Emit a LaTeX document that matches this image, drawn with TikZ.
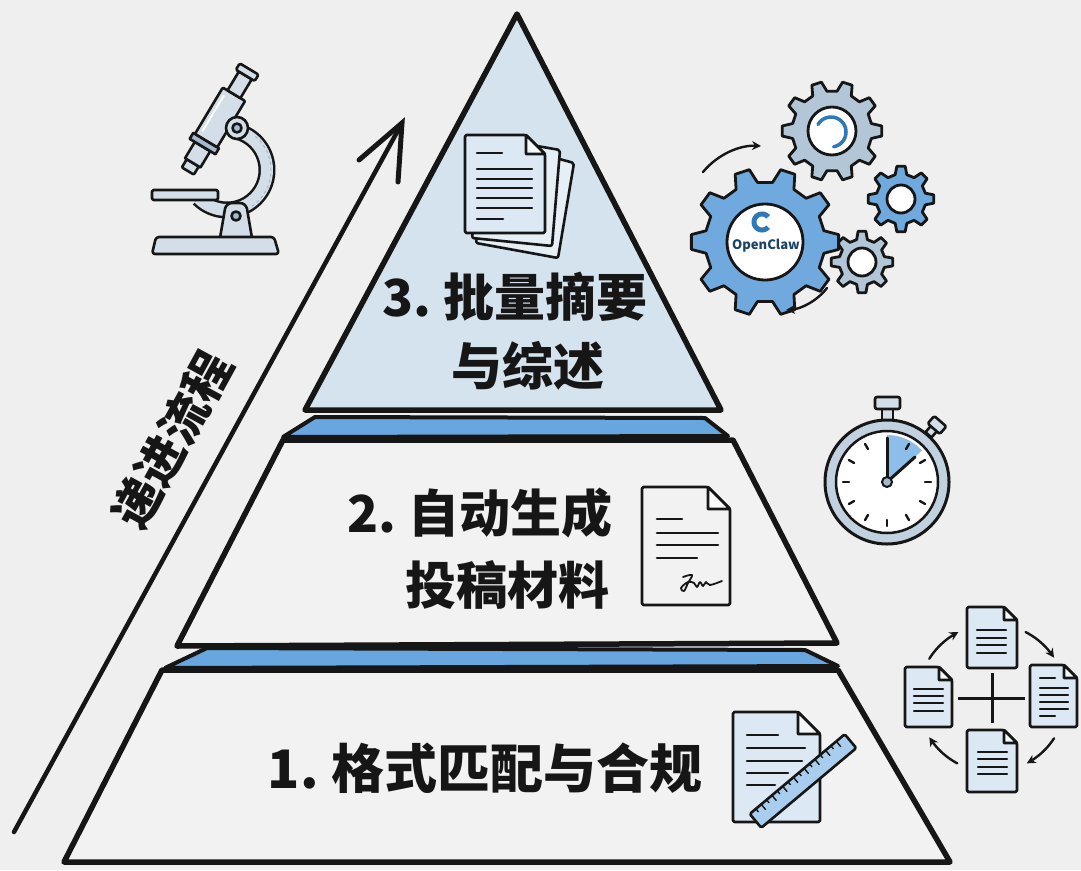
\documentclass[tikz,border=0pt]{standalone}
\usepackage{fontspec}
\newfontfamily\cjk{Noto Sans CJK SC}
\usetikzlibrary{arrows.meta}

\definecolor{bg}{HTML}{EFEFEF}
\definecolor{tierlight}{HTML}{F2F2F2}
\definecolor{topfill}{HTML}{D5E3EF}
\definecolor{bandblue}{HTML}{67A6DE}
\definecolor{ink}{HTML}{161616}
\definecolor{gearblue}{HTML}{6FA9DD}
\definecolor{geargray}{HTML}{B3C6D8}
\definecolor{paper}{HTML}{DCE8F3}
\definecolor{paperback}{HTML}{E6EEF6}
\definecolor{metal}{HTML}{D3DEE8}
\definecolor{metaldark}{HTML}{A3B9CE}
\definecolor{logo}{HTML}{2F79B8}
\definecolor{wedge}{HTML}{8DBDE9}
\definecolor{rulerblue}{HTML}{A9CDEE}

\tikzset{
  tier/.style={draw=ink, line width=5.5pt, line join=round},
  band/.style={draw=ink, line width=4pt, line join=round, fill=bandblue},
  iconline/.style={draw=ink, line width=2.6pt, line join=round, line cap=round},
  textline/.style={draw=ink, line width=2.6pt, line cap=round},
  gearline/.style={draw=ink, line width=2.8pt, line join=round},
  tiertext/.style={font={\cjk\bfseries\fontsize{51}{60}\selectfont}, text=ink, inner sep=0pt},
  cyclearrow/.style={draw=ink, line width=2.4pt, line cap=round, -{Stealth[length=9pt,width=9pt]}},
}

% document sheet with a folded corner: x1,y1,x2,y2,fold,fill
\newcommand\paperdoc[6]{%
  \filldraw[iconline, fill=#6, rounded corners=1.5pt]
    (#1,#2) -- ({#3-#5},#2) -- (#3,{#2+#5}) -- (#3,#4) -- (#1,#4) -- cycle;
  \filldraw[iconline, fill=white!70!#6]
    ({#3-#5},#2) -- ({#3-#5},{#2+#5}) -- (#3,{#2+#5}) -- cycle;}

% toothed gear: cx, cy, teeth, root radius, tip radius, fill
\newcommand\gearwheel[6]{%
  \filldraw[gearline, fill=#6, shift={(#1,#2)}]
    ({0.7*360/#3}:#4)
    \foreach \k in {1,...,#3} {
      -- ({(\k-0.3)*360/#3}:#4) -- ({(\k-0.16)*360/#3}:#5)
      -- ({(\k+0.16)*360/#3}:#5) -- ({(\k+0.3)*360/#3}:#4)}
    -- cycle;}

\begin{document}
\begin{tikzpicture}[x=1pt,y=-1pt]
\useasboundingbox (0,0) rectangle (1081,870);
\fill[bg] (0,0) rectangle (1081,870);

% ---------------- pyramid ----------------
\filldraw[tier, fill=tierlight] (162,670) -- (838,670) -- (950,862) -- (64,862) -- cycle;
\filldraw[band] (207,648) -- (805,650) -- (838,666) -- (165,668) -- cycle;
\filldraw[tier, fill=tierlight] (283,440) -- (733,440) -- (837,643) -- (177,646) -- cycle;
\filldraw[band] (315,417) -- (705,418) -- (728,436) -- (283,437) -- cycle;
\filldraw[tier, fill=topfill] (517,14) -- (721,410) -- (305,410) -- cycle;

% tier labels
\node[tiertext] (t3a) at (515,297) {3.\ 批量摘要};
\node[tiertext] (t3b) at (528,366) {与综述};
\node[tiertext] (t2a) at (480,513) {2.\ 自动生成};
\node[tiertext] (t2b) at (507,585) {投稿材料};
\node[tiertext, font={\cjk\bfseries\fontsize{53}{60}\selectfont}] (t1) at (485,768) {1.\ 格式匹配与合规};

% ---------------- progress arrow ----------------
\coordinate (arrowstart) at (14,832);
\coordinate (arrowtip) at (402,123);
\draw[ink, line width=4.5pt, line cap=round] (arrowstart) -- (arrowtip);
\draw[ink, line width=5pt, line cap=round, line join=miter] (359,160) -- (arrowtip) -- (398,182);
\node[font={\cjk\bfseries\fontsize{48}{56}\selectfont}, text=ink, rotate=61.3, inner sep=0pt]
  (flow) at (172,440) {递进流程};

% ---------------- stacked summaries (top tier) ----------------
\filldraw[iconline, fill=paperback, rounded corners=2pt] (490,140) -- (574,163) -- (558,258) -- (476,243) -- cycle;
\filldraw[iconline, fill=paperback, rounded corners=2pt] (485,137) -- (560,150) -- (552,246) -- (472,238) -- cycle;
\paperdoc{465}{135}{545}{233}{19}{paper}
\draw[textline] (477,153) -- (502,153);
\foreach \yy in {169,179,188,198,208} \draw[textline] (477,\yy) -- (532,\yy);
\draw[textline] (477,219) -- (503,219);

% ---------------- signed document (middle tier) ----------------
\paperdoc{642}{487}{730}{605}{22}{tierlight}
\draw[textline] (657,519) -- (682,519);
\draw[textline] (657,533) -- (718,533);
\draw[textline] (657,545) -- (718,545);
\draw[textline] (657,558) -- (697,558);
\draw[ink, line width=1.8pt, line cap=round, line join=round] plot[smooth, tension=0.6] coordinates
  {(683,577) (692,575) (688,583) (684,591) (681,588) (688,582) (694,583) (697,587) (700,582) (703,586) (706,582) (710,585) (722,581)};

% ---------------- ruler and sheet (bottom tier) ----------------
\paperdoc{733}{712}{820}{822}{22}{paper}
\draw[textline] (747,735) -- (778,735);
\draw[textline] (747,748) -- (805,748);
\draw[textline] (747,761) -- (802,761);
\draw[textline] (747,773) -- (788,773);
\draw[textline] (747,785) -- (775,785);
\begin{scope}[shift={(803,781)}, rotate=40]
  \filldraw[iconline, fill=rulerblue, rounded corners=1.5pt] (-62,-9) rectangle (62,9);
  \foreach \t [count=\i] in {-54,-47,...,54} {
    \pgfmathsetmacro\tl{mod(\i,2)==0 ? 7 : 4}
    \draw[ink, line width=1.4pt] (\t,-9) -- (\t,{-9+\tl});
  }
\end{scope}

% ---------------- microscope ----------------
\draw[ink, line width=17pt] plot[domain=75:-135, samples=50] ({227+40*cos(\x)},{170-40*sin(\x)});
\draw[metal, line width=12pt] plot[domain=75:-135, samples=50] ({227+40*cos(\x)},{170-40*sin(\x)});
\draw[metaldark, line width=1pt, dashed] plot[domain=50:-60, samples=30] ({227+44*cos(\x)},{170-44*sin(\x)});
\begin{scope}[shift={(218.5,120)}, rotate=-31]
  \filldraw[iconline, fill=metal, rounded corners=1pt] (-7,59.5) rectangle (7,50);
  \filldraw[iconline, fill=metal] (-9,50) rectangle (9,31);
  \filldraw[iconline, fill=metaldark] (-15,31) rectangle (15,24);
  \filldraw[iconline, fill=metal, rounded corners=1pt] (-13,24) rectangle (13,-30);
  \draw[white, line width=2pt] (-8,18) -- (-8,-24);
  \filldraw[iconline, fill=metal] (-7.5,-30) rectangle (7.5,-52);
  \filldraw[iconline, fill=metal, rounded corners=1.5pt] (-11,-52) rectangle (11,-59.5);
\end{scope}
\filldraw[iconline, fill=metal] (237,128) circle (11);
\filldraw[iconline, fill=metaldark] (237,128) circle (4.5);
\filldraw[iconline, fill=metal, rounded corners=1.5pt] (152,190) rectangle (218,200);
\filldraw[iconline, fill=metal, rounded corners=6pt] (220,238) -- (226,203) -- (246,203) -- (252,238);
\filldraw[iconline, fill=metaldark] (236,216) circle (4.5);
\filldraw[iconline, fill=metal, rounded corners=3pt] (156,237) -- (274,237) -- (279,254) -- (152,254) -- cycle;

% ---------------- gears ----------------
\gearwheel{832}{131}{10}{40}{50}{geargray}
\filldraw[gearline, fill=white] (832,131) circle (24);
\draw[logo, line width=3.5pt, line cap=round] plot[domain=150:-80, samples=30] ({831+15*cos(\x)},{132-15*sin(\x)});

\gearwheel{901}{199}{8}{25}{33}{gearblue}
\filldraw[gearline, fill=white] (901,199) circle (14);

\gearwheel{862}{262}{8}{23}{31}{geargray}
\filldraw[gearline, fill=white] (862,262) circle (14);

\gearwheel{765}{242}{10}{60}{74}{gearblue}
\filldraw[gearline, fill=white] (765,242) circle (38);
\draw[logo, line width=5pt] plot[domain=40:320, samples=30] ({762+8*cos(\x)},{222-8*sin(\x)});
\node[font={\cjk\bfseries\fontsize{13}{15}\selectfont}, text=logo!55!black, inner sep=0pt] (brand) at (766,246) {OpenClaw};

\coordinate (gearA1) at (703,172);
\coordinate (gearA2) at (761,146);
\coordinate (gearB1) at (827,288);
\coordinate (gearB2) at (786,310);
\draw[cyclearrow] (gearA1) .. controls (718,154) and (740,145) .. (gearA2);
\draw[cyclearrow] (gearB1) .. controls (817,301) and (801,309) .. (gearB2);

% ---------------- stopwatch ----------------
\begin{scope}[shift={(937,425)}, rotate=-41]
  \filldraw[iconline, fill=metal] (-4,4) rectangle (4,13);
  \filldraw[iconline, fill=metal, rounded corners=1.5pt] (-8,-5) rectangle (8,5);
\end{scope}
\filldraw[iconline, fill=metal] (882,408) rectangle (893,422);
\filldraw[iconline, fill=metal, rounded corners=2pt] (875,397) rectangle (900,409);
\filldraw[ink, line width=3pt, fill=geargray!80!white] (887,482) circle (62);
\filldraw[ink, line width=2.5pt, fill=white] (887,482) circle (51);
\fill[wedge] (887,482) -- plot[domain=90:42, samples=20] ({887+47*cos(\x)},{482-47*sin(\x)}) -- cycle;
\foreach \a in {0,30,...,330}
  \draw[ink, line width=2.4pt, line cap=round] ({887+38*cos(\a)},{482-38*sin(\a)}) -- ({887+44*cos(\a)},{482-44*sin(\a)});
\draw[ink, line width=3pt, line cap=round] (887,482) -- (887,438);
\draw[ink, line width=3pt, line cap=round] (887,482) -- (915,457);
\filldraw[ink, line width=2pt, fill=metaldark] (887,482) circle (5);

% ---------------- four-document cycle ----------------
\draw[ink, line width=3pt] (958,698) -- (1025,698);
\draw[ink, line width=3pt] (992,673) -- (992,723);
\paperdoc{967}{607}{1017}{668}{13}{paper}
\foreach \yy in {630,638,645,653} \draw[textline, line width=2.2pt] (977,\yy) -- (1006,\yy);
\paperdoc{905}{667}{952}{727}{13}{paper}
\foreach \yy in {689,696,703,711} \draw[textline, line width=2.2pt] (914,\yy) -- (943,\yy);
\paperdoc{1030}{665}{1077}{727}{13}{paper}
\draw[textline, line width=2.2pt] (1040,678) -- (1055,678);
\foreach \yy in {688,695,702,709} \draw[textline, line width=2.2pt] (1040,\yy) -- (1068,\yy);
\draw[textline, line width=2.2pt] (1040,716) -- (1055,716);
\paperdoc{967}{730}{1017}{792}{13}{paper}
\foreach \yy in {752,759,767,774} \draw[textline, line width=2.2pt] (978,\yy) -- (1007,\yy);

\draw[cyclearrow] plot[domain=148:117, samples=12] ({992+74*cos(\x)},{698-74*sin(\x)});
\draw[cyclearrow] plot[domain=63:33, samples=12] ({992+74*cos(\x)},{698-74*sin(\x)});
\draw[cyclearrow] plot[domain=-33:-62, samples=12] ({992+74*cos(\x)},{698-74*sin(\x)});
\draw[cyclearrow] plot[domain=-118:-148, samples=12] ({992+74*cos(\x)},{698-74*sin(\x)});
\end{tikzpicture}
\end{document}
